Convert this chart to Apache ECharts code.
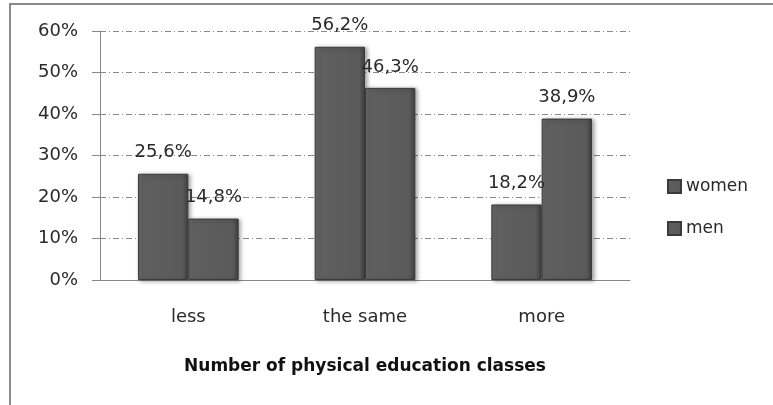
<!DOCTYPE html>
<html>
<head>
<meta charset="utf-8">
<script src="https://cdn.jsdelivr.net/npm/echarts@6/dist/echarts.min.js"></script>
<style>
  html, body { margin: 0; padding: 0; background: #fff; }
  #chart { width: 773px; height: 405px; }
</style>
</head>
<body>
<div id="chart"></div>
<script>
// Survey answers by gender, in percent
const categories = ['less', 'the same', 'more'];
const women = [25.6, 56.2, 18.2];
const men = [14.8, 46.3, 38.9];
const yTicks = [0, 10, 20, 30, 40, 50, 60];
const axisTitle = 'Number of physical education classes';

const FONT = 'DejaVu Sans';
const TEXT = '#2a2a2a';

const barFill = new echarts.graphic.LinearGradient(0, 0, 1, 0, [
  { offset: 0, color: '#6b6b6b' },
  { offset: 0.12, color: '#5f5f5f' },
  { offset: 0.88, color: '#5a5a5a' },
  { offset: 1, color: '#3f3f3f' }
]);

function fmt(v) {
  return v.toFixed(1).replace('.', ',') + '%';
}

function barSeries(name, values) {
  return {
    name: name,
    type: 'bar',
    data: values,
    barGap: '0%',
    barCategoryGap: '43%',
    itemStyle: {
      color: barFill,
      borderColor: '#3a3a3a',
      borderWidth: 1,
      shadowColor: 'rgba(0,0,0,0.35)',
      shadowBlur: 4,
      shadowOffsetX: 2,
      shadowOffsetY: 1
    },
    label: {
      show: true,
      position: 'top',
      distance: 12,
      fontFamily: FONT,
      fontSize: 18,
      color: TEXT,
      formatter: p => fmt(p.value)
    }
  };
}

const chart = echarts.init(document.getElementById('chart'), null, { renderer: 'canvas' });
chart.setOption({
  animation: false,
  backgroundColor: '#fff',
  graphic: [{
    type: 'rect',
    shape: { x: 10, y: 4, width: 900, height: 600 },
    style: { fill: 'none', stroke: '#8a8a8a', lineWidth: 2 },
    z: -1
  }],
  grid: { left: 100, right: 143, top: 31, bottom: 125 },
  legend: {
    orient: 'vertical',
    left: 662,
    top: 173,
    itemWidth: 13,
    itemHeight: 13,
    itemGap: 25,
    icon: 'rect',
    textStyle: { fontFamily: FONT, fontSize: 17, color: TEXT },
    data: ['women', 'men']
  },
  xAxis: {
    type: 'category',
    data: categories,
    name: axisTitle,
    nameLocation: 'middle',
    nameGap: 78,
    nameTextStyle: { fontFamily: FONT, fontSize: 17, fontWeight: 'bold', color: '#111' },
    axisLine: { lineStyle: { color: '#888', width: 1 } },
    axisTick: { show: false },
    axisLabel: { fontFamily: FONT, fontSize: 18, color: TEXT, margin: 28 }
  },
  yAxis: {
    type: 'value',
    min: yTicks[0],
    max: yTicks[yTicks.length - 1],
    interval: 10,
    axisLine: { show: true, lineStyle: { color: '#888', width: 1 } },
    axisTick: { show: true, length: 8, lineStyle: { color: '#888' } },
    axisLabel: { fontFamily: FONT, fontSize: 18, color: TEXT, margin: 22, formatter: v => v + '%' },
    splitLine: { lineStyle: { color: '#888', width: 1, type: [6, 3, 1, 3] } }
  },
  series: [barSeries('women', women), barSeries('men', men)]
});
</script>
</body>
</html>
